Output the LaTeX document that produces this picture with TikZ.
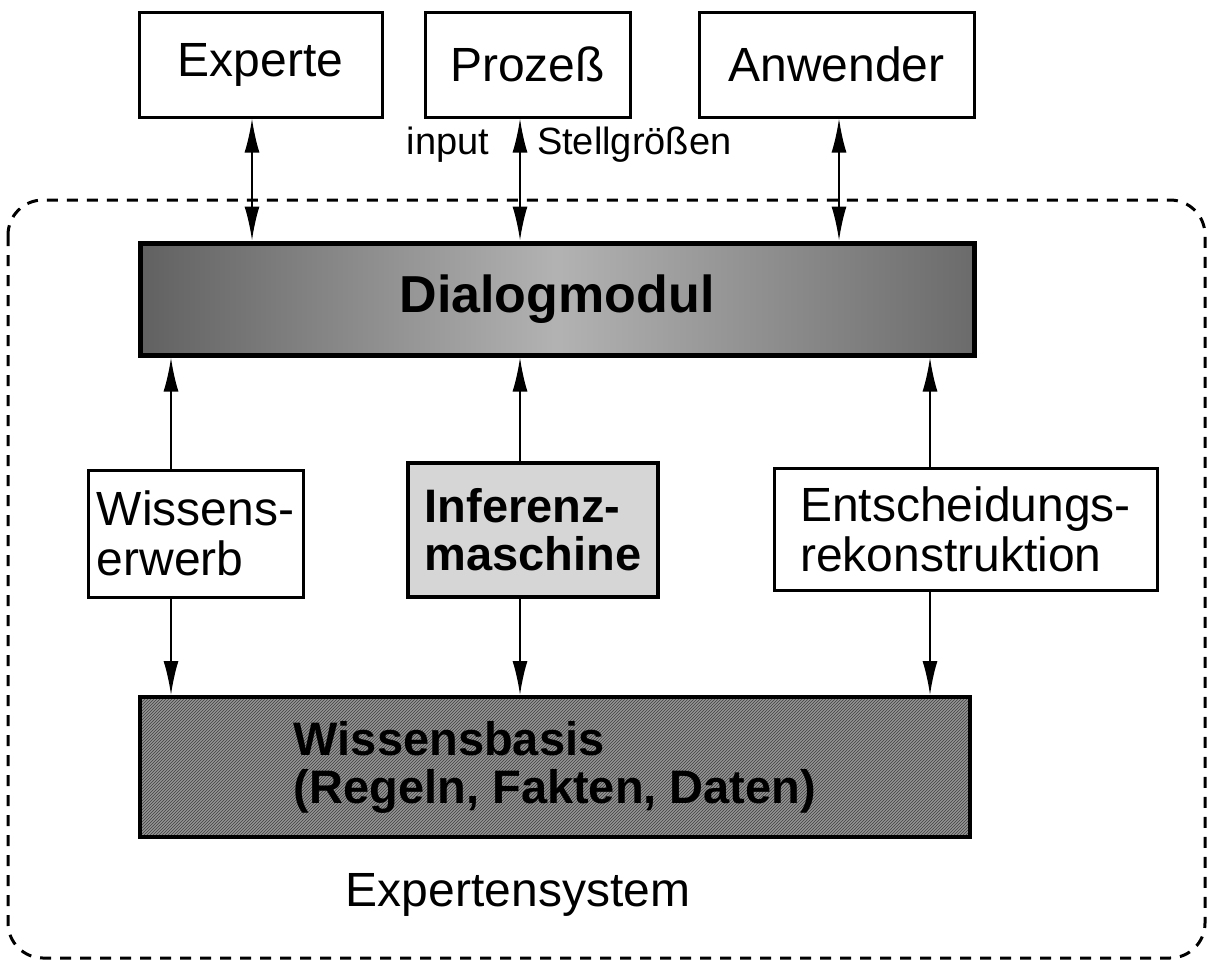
\documentclass[tikz,border=0pt]{standalone}
\usepackage{fontspec}
\setmainfont{Liberation Sans}
\usetikzlibrary{positioning,arrows.meta,patterns}

\begin{document}
\begin{tikzpicture}[x=1pt, y=-1pt, line width=2pt, align=left,
    font=\fontsize{48}{50}\selectfont,
    box/.style={draw, line width=3pt, shape=rectangle, inner sep=0pt},
    darkbox/.style={box, line width=5pt, font=\fontsize{47}{48}\selectfont\bfseries},
    label/.style={inner sep=0pt, font=\fontsize{38}{40}\selectfont},
    tip/.style={-{Latex[length=34pt,width=15pt]}},
    duplex/.style={{Latex[length=34pt,width=15pt]}-{Latex[length=34pt,width=15pt]}},
    frame/.style={line width=3pt, dash pattern=on 11pt off 9pt, rounded corners=35pt}]
    \useasboundingbox (0,0) rectangle (1210,967);

    % outer boundary of the expert system
    \draw [frame] (8,200) rectangle (1205,958);

    \node (exp) [box, minimum width=243pt, minimum height=105pt] at (260.5,64.5) {Experte};
    \node (proz) [box, minimum width=205pt, minimum height=105pt] at (527.5,64.5) {Prozeß};
    \node (anw) [box, minimum width=275pt, minimum height=105pt] at (836.5,64.5) {Anwender};

    \node (dialog) [darkbox, font=\fontsize{52}{54}\selectfont\bfseries, minimum width=834pt, minimum height=112pt,
        left color=black!62, right color=black!58, middle color=black!30] at (557,299) {Dialogmodul};

    \node (erwerb) [box, minimum width=215pt, minimum height=127pt] at (195.5,533.5) {Wissens-\\erwerb};
    \node (inferenz) [darkbox, line width=4pt, fill=black!16, minimum width=250pt, minimum height=134pt] at (533,530) {Inferenz-\\maschine};
    \node (rekon) [box, minimum width=383pt, minimum height=122pt] at (965.5,529) {Entscheidungs-\\rekonstruktion};

    \node (basis) [darkbox, line width=4pt, preaction={fill=black!42}, pattern=north east lines, pattern color=black!75,
        minimum width=830pt, minimum height=140pt] at (555,767) {Wissensbasis\\(Regeln, Fakten, Daten)};

    \node (system) at (518,895) {Expertensystem};

    \coordinate (a1) at ([xshift=-8.5pt]exp.south);
    \coordinate (a2) at ([xshift=-7.5pt]proz.south);
    \coordinate (a3) at ([xshift=2.5pt]anw.south);
    \draw [duplex] (a1) -- (a1 |- dialog.north);
    \draw [duplex] (a2) -- (a2 |- dialog.north);
    \draw [duplex] (a3) -- (a3 |- dialog.north);

    \coordinate (lbl) at (a2 |- 0,145);
    \node (input) [label, left=30pt of lbl] {input};
    \node (stell) [label, right=16pt of lbl] {Stellgrößen};

    \coordinate (b1) at ([xshift=-24.5pt]erwerb.north);
    \coordinate (b2) at ([xshift=-13pt]inferenz.north);
    \coordinate (b3) at ([xshift=-35.5pt]rekon.north);
    \draw [tip] (b1) -- (b1 |- dialog.south);
    \draw [tip] (b2) -- (b2 |- dialog.south);
    \draw [tip] (b3) -- (b3 |- dialog.south);

    \coordinate (c1) at (b1 |- erwerb.south);
    \coordinate (c2) at (b2 |- inferenz.south);
    \coordinate (c3) at (b3 |- rekon.south);
    \draw [tip] (c1) -- (c1 |- basis.north);
    \draw [tip] (c2) -- (c2 |- basis.north);
    \draw [tip] (c3) -- (c3 |- basis.north);
\end{tikzpicture}
\end{document}
